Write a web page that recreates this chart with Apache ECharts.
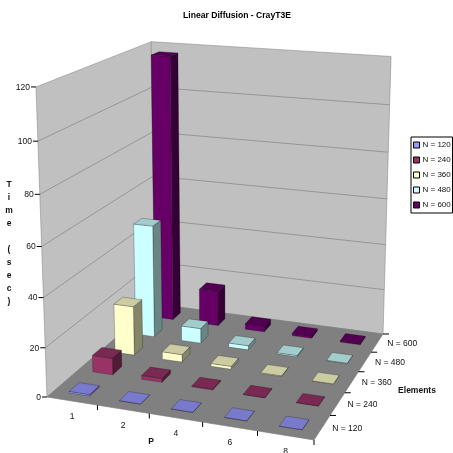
<!DOCTYPE html>
<html>
<head>
<meta charset="utf-8">
<style>
  html, body { margin: 0; padding: 0; background: #fff; }
  #chart { width: 453px; height: 453px; }
</style>
<script src="https://cdn.jsdelivr.net/npm/echarts@6/dist/echarts.min.js"></script>
</head>
<body>
<div id="chart"></div>
<script>
// values
var pLabels = ['1', '2', '4', '6', '8'];
var nLabels = ['N = 120', 'N = 240', 'N = 360', 'N = 480', 'N = 600'];
var timeTicks = [0, 20, 40, 60, 80, 100, 120];
var n120 = [0.6, 0.1, 0.1, 0.1, 0.1];
var n240 = [7, 1.6, 0.4, 0.2, 0.1];
var n360 = [21, 3.2, 1.2, 0.3, 0.1];
var n480 = [49, 6.5, 1.8, 0.5, 0.2];
var n600 = [117, 15.6, 2.5, 1, 0.5];
var seriesValues = [n120, n240, n360, n480, n600];
var colors = ['#9999FF', '#993366', '#FFFFCC', '#CCFFFF', '#660066'];

// the hidden grid is 100x100 px, so its axes give fractions of the box
var GRID = 100;
var BAR_SHARE = 0.41; // bar width as share of its band
var FONT = '"Liberation Sans", Arial, sans-serif';

// box corners on screen: floor is front-left, front-right, back-right, back-left
var floorQuad = [[47, 397], [314, 440], [383, 334], [155, 304]];
var vanish = [231, 5590]; // the verticals meet here
var riseK = -0.05634;

var dx1 = floorQuad[1][0] - floorQuad[2][0], dx2 = floorQuad[3][0] - floorQuad[2][0];
var dy1 = floorQuad[1][1] - floorQuad[2][1], dy2 = floorQuad[3][1] - floorQuad[2][1];
var sx = floorQuad[0][0] - floorQuad[1][0] + floorQuad[2][0] - floorQuad[3][0];
var sy = floorQuad[0][1] - floorQuad[1][1] + floorQuad[2][1] - floorQuad[3][1];
var det = dx1 * dy2 - dx2 * dy1;
var hg = (sx * dy2 - dx2 * sy) / det, hh = (dx1 * sy - sx * dy1) / det;
var ha = floorQuad[1][0] - floorQuad[0][0] + hg * floorQuad[1][0];
var hb = floorQuad[3][0] - floorQuad[0][0] + hh * floorQuad[3][0];
var hd = floorQuad[1][1] - floorQuad[0][1] + hg * floorQuad[1][1];
var he = floorQuad[3][1] - floorQuad[0][1] + hh * floorQuad[3][1];

// fx along P, fz along N (depth), fh up the Time axis, all 0..1
function project(fx, fz, fh) {
  var w = hg * fx + hh * fz + 1 + fh * riseK;
  return [
    (ha * fx + hb * fz + floorQuad[0][0] + fh * riseK * vanish[0]) / w,
    (hd * fx + he * fz + floorQuad[0][1] + fh * riseK * vanish[1]) / w
  ];
}

function shade(hex, f) {
  var c = echarts.color.parse(hex);
  return 'rgb(' + Math.round(c[0] * f) + ',' + Math.round(c[1] * f) + ',' + Math.round(c[2] * f) + ')';
}

function poly(points, fill, stroke) {
  return {
    type: 'polygon',
    shape: { points: points },
    style: { fill: fill, stroke: stroke || 'rgba(0,0,0,0.4)', lineWidth: 0.6 }
  };
}

function line(a, b, color, width) {
  return {
    type: 'line',
    shape: { x1: a[0], y1: a[1], x2: b[0], y2: b[1] },
    style: { stroke: color, lineWidth: width, fill: null }
  };
}

function text(str, x, y, align, bold) {
  return {
    type: 'text',
    style: {
      text: str, x: x, y: y,
      align: align, verticalAlign: 'middle',
      fill: '#111',
      lineHeight: 13,
      font: (bold ? 'bold ' : '') + '8.5px ' + FONT
    }
  };
}

// walls, floor, gridlines
function renderFrame() {
  var kids = [];
  var wallLine = '#8c8c8c';
  var A = project(0, 0, 0), B = project(1, 0, 0), C = project(1, 1, 0), D = project(0, 1, 0);
  var A2 = project(0, 0, 1), C2 = project(1, 1, 1), D2 = project(0, 1, 1);
  kids.push(poly([A, D, D2, A2], '#C0C0C0', wallLine));
  kids.push(poly([D, C, C2, D2], '#C0C0C0', wallLine));
  kids.push(poly([A, B, C, D], '#808080', '#777'));
  timeTicks.forEach(function (t) {
    if (t === 0 || t === 120) return;
    var fh = t / 120;
    kids.push(line(project(0, 0, fh), project(0, 1, fh), wallLine, 0.8));
    kids.push(line(project(0, 1, fh), project(1, 1, fh), wallLine, 0.8));
  });
  return { type: 'group', children: kids };
}

// ticks and their labels, the axes are skewed so the stock ones cannot be used
function renderTicks() {
  var kids = [];
  timeTicks.forEach(function (t) {
    var p = project(0, 0, t / 120);
    kids.push(line([p[0] - 5, p[1]], p, '#000', 1));
    kids.push(text(String(t), p[0] - 6, p[1] + 0.5, 'right'));
  });
  pLabels.forEach(function (label, i) {
    var p = project((i + 1) / pLabels.length, 0, 0);
    kids.push(line(p, [p[0], p[1] + 5], '#000', 1));
    var c = project((i + 0.5) / pLabels.length, 0, 0);
    kids.push(text(label, c[0], c[1] + 16, 'center'));
  });
  nLabels.forEach(function (label, j) {
    var p = project(1, (j + 1) / nLabels.length, 0);
    kids.push(line(p, [p[0] + 6, p[1]], '#000', 1));
    var c = project(1, (j + 0.5) / nLabels.length, 0);
    kids.push(text(label, c[0] + 10, c[1] + 1, 'left'));
  });
  kids.push(text('T\ni\nm\ne\n\n(\ns\ne\nc\n)', 9, 243, 'center', true));
  kids.push(text('P', 151, 442, 'center', true));
  kids.push(text('Elements', 417, 391, 'center', true));
  return { type: 'group', children: kids };
}

function barRenderer(j) {
  return function (params, api) {
    var base = api.coord([api.value(0), 0]);
    var top = api.coord([api.value(0), api.value(1)]);
    var half = api.size([1, 0])[0] / GRID * BAR_SHARE / 2;
    var fx = base[0] / GRID;
    var fz = (j + 0.5) / nLabels.length;
    var fh = (GRID - top[1]) / GRID;
    var depth = BAR_SHARE / nLabels.length / 2;
    var c = colors[j];
    var fl = project(fx - half, fz - depth, 0), fr = project(fx + half, fz - depth, 0);
    var bl = project(fx - half, fz + depth, 0), br = project(fx + half, fz + depth, 0);
    var tfl = project(fx - half, fz - depth, fh), tfr = project(fx + half, fz - depth, fh);
    var tbl = project(fx - half, fz + depth, fh), tbr = project(fx + half, fz + depth, fh);
    return {
      type: 'group',
      children: [
        poly([fr, br, tbr, tfr], shade(c, 0.52)),
        poly([fl, fr, tfr, tfl], c),
        poly([tfl, tfr, tbr, tbl], shade(c, 0.8))
      ]
    };
  };
}

var series = [
  { type: 'custom', name: 'frame', z: 1, silent: true, data: [[0, 0]], renderItem: renderFrame },
  { type: 'custom', name: 'ticks', z: 1, silent: true, data: [[0, 0]], renderItem: renderTicks }
];
seriesValues.forEach(function (values, j) {
  series.push({
    type: 'custom',
    name: nLabels[j],
    z: 10 - j, // back rows paint first
    silent: true,
    itemStyle: { color: colors[j] },
    encode: { x: 0, y: 1 },
    data: values.map(function (v, i) { return [i, v]; }),
    renderItem: barRenderer(j)
  });
});

var chart = echarts.init(document.getElementById('chart'), null, { renderer: 'canvas' });
chart.setOption({
  animation: false,
  title: {
    text: 'Linear Diffusion - CrayT3E',
    left: 183,
    top: 11,
    padding: 0,
    textStyle: { fontFamily: FONT, fontSize: 8.6, fontWeight: 'bold', color: '#000' }
  },
  legend: {
    data: nLabels,
    orient: 'vertical',
    left: 411,
    top: 137,
    padding: [3, 1, 3, 2],
    itemGap: 5,
    itemWidth: 6,
    itemHeight: 6,
    icon: 'rect',
    selectedMode: false,
    backgroundColor: '#fff',
    borderColor: '#000',
    borderWidth: 1,
    itemStyle: { borderColor: '#000', borderWidth: 1 },
    textStyle: { fontFamily: FONT, fontSize: 8, color: '#111', padding: [0, 0, 0, -2], lineHeight: 10, width: 29 }
  },
  grid: { show: false, left: 0, top: 0, width: GRID, height: GRID },
  xAxis: { type: 'category', data: pLabels, show: false },
  yAxis: { type: 'value', min: 0, max: 120, interval: 20, show: false },
  series: series
});
</script>
</body>
</html>
